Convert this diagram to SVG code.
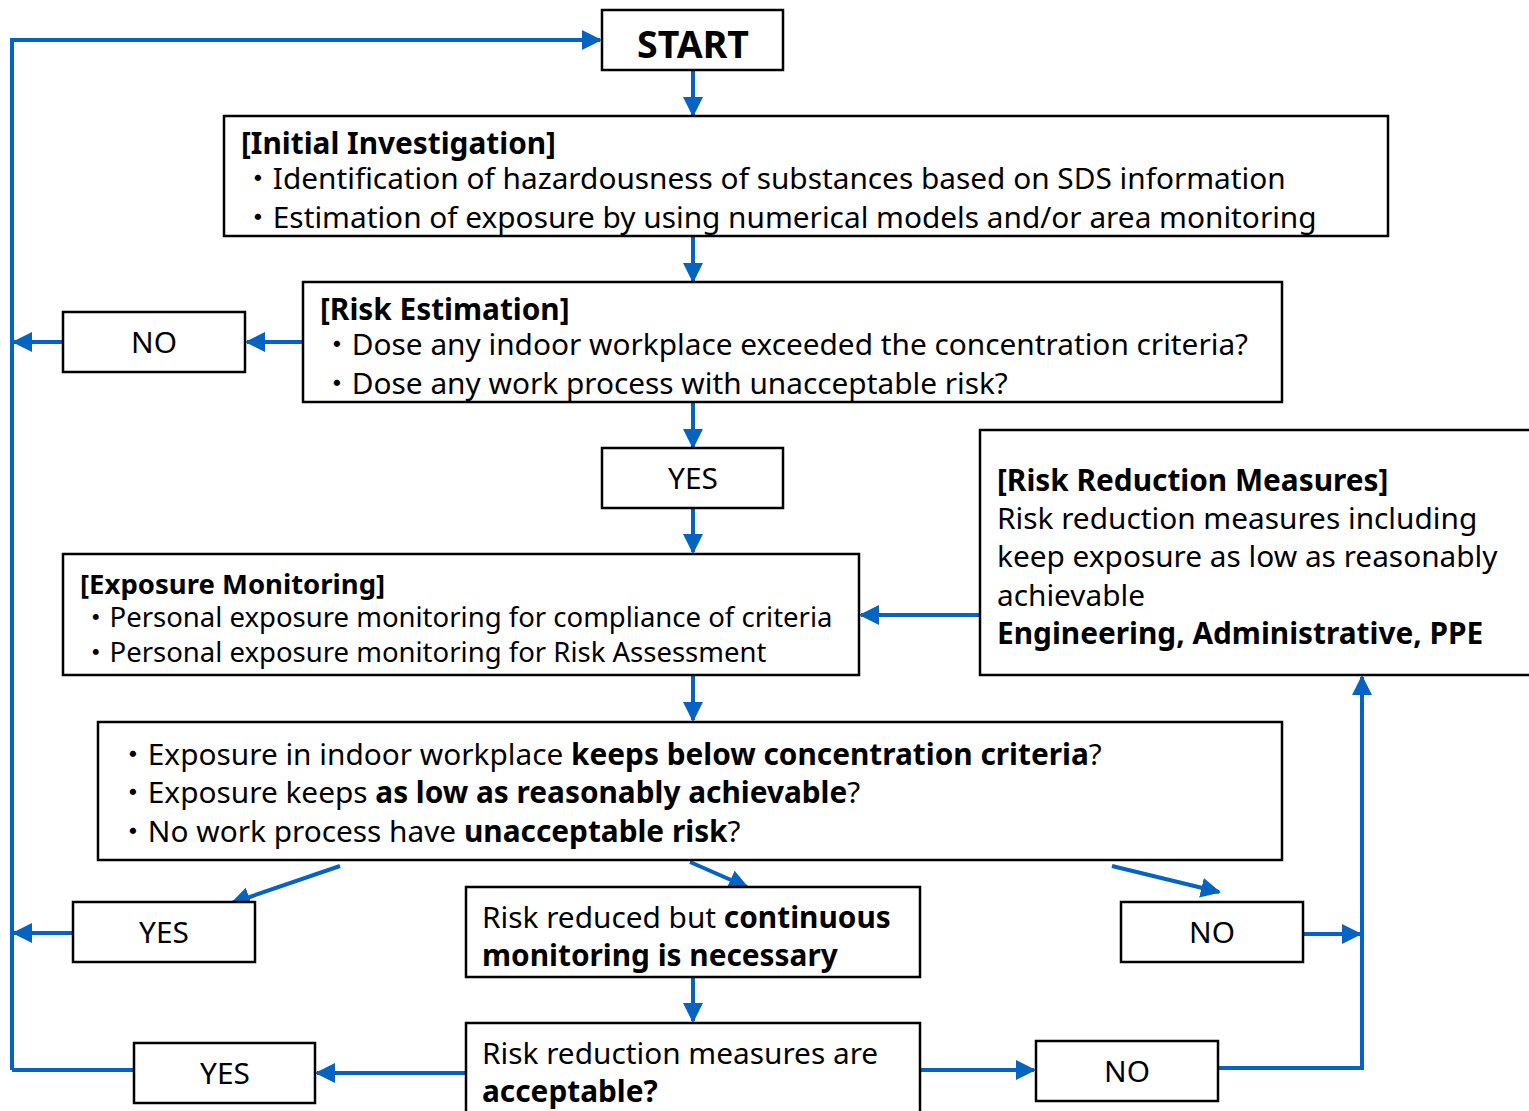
<svg xmlns="http://www.w3.org/2000/svg" width="1529" height="1111" viewBox="0 0 1529 1111">
<style>
.box{fill:#fff;stroke:#000;stroke-width:2.5}
.t{font-family:"Noto Sans","Noto Sans CJK JP",sans-serif;fill:#000;font-size:29.8px}
.s{font-size:27.5px}
.b{font-weight:bold}
.c{text-anchor:middle}
.ln{fill:none;stroke:#0563C1;stroke-width:4}
</style>
<defs>
<marker id="ah" markerWidth="5" markerHeight="5" refX="4.5" refY="2.5" orient="auto" markerUnits="strokeWidth">
<path d="M0,0 L5,2.5 L0,5 Z" fill="#0563C1"/>
</marker>
</defs>
<rect width="1529" height="1111" fill="#fff"/>
<g id="connectors">
<path class="ln" d="M12,1070 V40 H600" marker-end="url(#ah)"/>
<path class="ln" d="M693,70 V115" marker-end="url(#ah)"/>
<path class="ln" d="M693,237 V281" marker-end="url(#ah)"/>
<path class="ln" d="M303,342 H247" marker-end="url(#ah)"/>
<path class="ln" d="M63,342 H14" marker-end="url(#ah)"/>
<path class="ln" d="M693,403 V447" marker-end="url(#ah)"/>
<path class="ln" d="M693,508 V552" marker-end="url(#ah)"/>
<path class="ln" d="M980,615 H861" marker-end="url(#ah)"/>
<path class="ln" d="M693,676 V720" marker-end="url(#ah)"/>
<path class="ln" d="M340,866 L232,903" marker-end="url(#ah)"/>
<path class="ln" d="M690,862 L747,887" marker-end="url(#ah)"/>
<path class="ln" d="M1112,866 L1219,892" marker-end="url(#ah)"/>
<path class="ln" d="M73,933 H14" marker-end="url(#ah)"/>
<path class="ln" d="M1303,934 H1360" marker-end="url(#ah)"/>
<path class="ln" d="M1218,1068 H1362 V677" marker-end="url(#ah)"/>
<path class="ln" d="M693,978 V1021" marker-end="url(#ah)"/>
<path class="ln" d="M466,1073 H317" marker-end="url(#ah)"/>
<path class="ln" d="M134,1070 H12"/>
<path class="ln" d="M920,1070 H1034" marker-end="url(#ah)"/>
</g>
<g id="start">
<rect class="box" x="602" y="10" width="181" height="60"/>
<text class="t b c" x="693" y="58" style="font-size:37.5px">START</text>
</g>
<g id="initial">
<rect class="box" x="224" y="116" width="1164" height="120"/>
<text class="t b" x="241" y="154">[Initial Investigation]</text>
<text class="t" x="243" y="189">・Identification of hazardousness of substances based on SDS information</text>
<text class="t" x="243" y="228">・Estimation of exposure by using numerical models and/or area monitoring</text>
</g>
<g id="riskest">
<rect class="box" x="303" y="282" width="979" height="120"/>
<text class="t b" x="320" y="320">[Risk Estimation]</text>
<text class="t" x="322" y="355">・Dose any indoor workplace exceeded the concentration criteria?</text>
<text class="t" x="322" y="394">・Dose any work process with unacceptable risk?</text>
</g>
<g id="no1">
<rect class="box" x="63" y="312" width="182" height="60"/>
<text class="t c" x="154" y="353">NO</text>
</g>
<g id="yes1">
<rect class="box" x="602" y="448" width="181" height="60"/>
<text class="t c" x="693" y="489">YES</text>
</g>
<g id="exposure">
<rect class="box" x="63" y="554" width="796" height="121"/>
<text class="t s b" x="80" y="594">[Exposure Monitoring]</text>
<text class="t s" x="82" y="627">・Personal exposure monitoring for compliance of criteria</text>
<text class="t s" x="82" y="662">・Personal exposure monitoring for Risk Assessment</text>
</g>
<g id="reduction">
<rect class="box" x="980" y="430" width="560" height="245"/>
<text class="t b" x="997" y="491">[Risk Reduction Measures]</text>
<text class="t" x="997" y="529">Risk reduction measures including</text>
<text class="t" x="997" y="567">keep exposure as low as reasonably</text>
<text class="t" x="997" y="606">achievable</text>
<text class="t b" x="997" y="644">Engineering, Administrative, PPE</text>
</g>
<g id="criteria">
<rect class="box" x="98" y="722" width="1184" height="138"/>
<text class="t" x="118" y="765">・Exposure in indoor workplace <tspan class="b">keeps below concentration criteria</tspan>?</text>
<text class="t" x="118" y="803">・Exposure keeps <tspan class="b">as low as reasonably achievable</tspan>?</text>
<text class="t" x="118" y="842">・No work process have <tspan class="b">unacceptable risk</tspan>?</text>
</g>
<g id="yes2">
<rect class="box" x="73" y="902" width="182" height="60"/>
<text class="t c" x="164" y="943">YES</text>
</g>
<g id="continuous">
<rect class="box" x="466" y="887" width="454" height="90"/>
<text class="t" x="482" y="928">Risk reduced but <tspan class="b">continuous</tspan></text>
<text class="t b" x="482" y="966">monitoring is necessary</text>
</g>
<g id="no2">
<rect class="box" x="1121" y="902" width="182" height="60"/>
<text class="t c" x="1212" y="943">NO</text>
</g>
<g id="acceptable">
<rect class="box" x="466" y="1023" width="454" height="100"/>
<text class="t" x="482" y="1064">Risk reduction measures are</text>
<text class="t b" x="482" y="1102">acceptable?</text>
</g>
<g id="yes3">
<rect class="box" x="134" y="1043" width="181" height="60"/>
<text class="t c" x="225" y="1084">YES</text>
</g>
<g id="no3">
<rect class="box" x="1036" y="1041" width="182" height="60"/>
<text class="t c" x="1127" y="1082">NO</text>
</g>
</svg>
